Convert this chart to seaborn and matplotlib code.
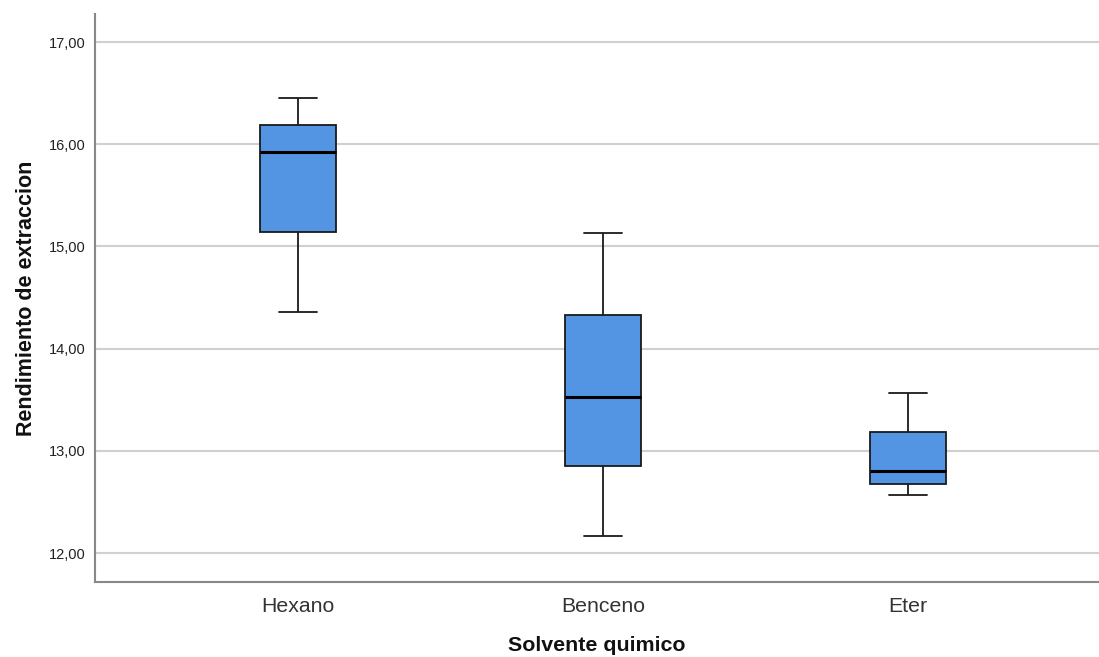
import matplotlib
matplotlib.use("Agg")
import matplotlib.pyplot as plt
import seaborn as sns
import pandas as pd
from matplotlib.ticker import FuncFormatter

categories = ["Hexano", "Benceno", "Eter"]
hexano = [14.36, 15.14, 15.92, 16.19, 16.45]
benceno = [12.17, 12.85, 13.53, 14.33, 15.13]
eter = [12.57, 12.68, 12.80, 13.18, 13.57]
y_ticks = [12, 13, 14, 15, 16, 17]

df = pd.DataFrame({
    "Solvente quimico": [categories[0]] * len(hexano) + [categories[1]] * len(benceno) + [categories[2]] * len(eter),
    "Rendimiento de extraccion": hexano + benceno + eter,
})

sns.set_theme(style="white")
plt.rcParams["font.family"] = ["Liberation Sans", "DejaVu Sans"]

fig = plt.figure(figsize=(10.99, 6.57), dpi=100)
ax = fig.add_axes([0.0864, 0.114, 0.9136, 0.8647])

ax.set_axisbelow(True)
ax.yaxis.grid(True, color="#d0d0d0", linewidth=1.5)
ax.xaxis.grid(False)

sns.boxplot(data=df, x="Solvente quimico", y="Rendimiento de extraccion", order=categories,
            color="#5394e3", saturation=1, width=0.25, whis=1.5,
            linecolor="#1a1a1a", linewidth=1.3,
            medianprops=dict(color="black", linewidth=2.2),
            ax=ax)

ax.set_ylim(11.716, 17.274)
ax.set_xlim(-0.666, 2.626)
ax.set_yticks(y_ticks)
ax.yaxis.set_major_formatter(FuncFormatter(lambda v, p: f"{v:.2f}".replace(".", ",")))

for s in ["top", "right"]:
    ax.spines[s].set_visible(False)
for s in ["left", "bottom"]:
    ax.spines[s].set_color("#888888")
    ax.spines[s].set_linewidth(1.5)

ax.tick_params(axis="y", labelsize=10.5, length=0, pad=7, colors="#222222")
ax.tick_params(axis="x", labelsize=15.3, length=0, pad=11, colors="#333333")
ax.set_xlabel("Solvente quimico", fontsize=15.4, fontweight="bold", labelpad=14, color="#111111")
ax.set_ylabel("Rendimiento de extraccion", fontsize=15.5, fontweight="bold", labelpad=8, color="#111111")

fig.savefig("out.png", dpi=100)
